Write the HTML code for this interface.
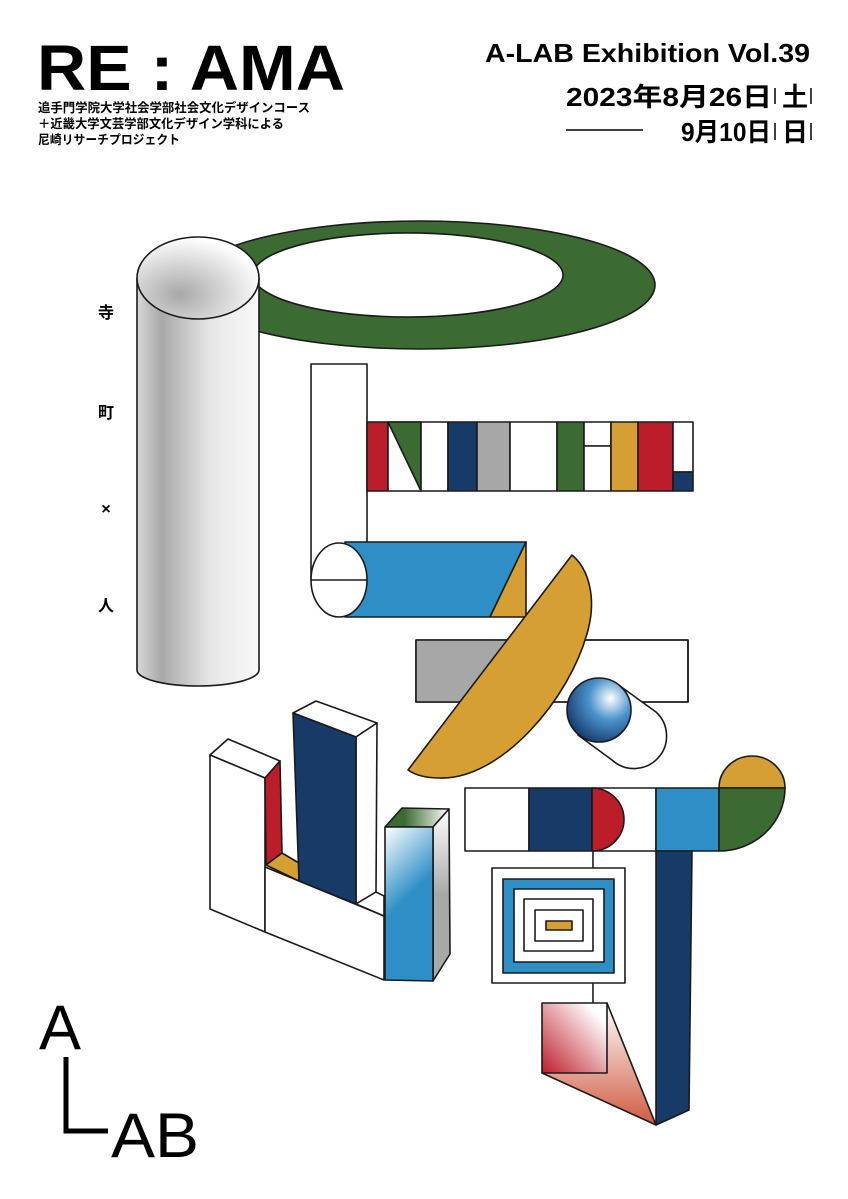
<!DOCTYPE html>
<html><head><meta charset="utf-8"><style>
html,body{margin:0;padding:0;background:#fff;width:848px;height:1199px;overflow:hidden}
svg{display:block}
</style></head><body>
<svg width="848" height="1199" viewBox="0 0 848 1199" xmlns="http://www.w3.org/2000/svg">
<defs>
<linearGradient id="cyl" x1="0" x2="1" y1="0" y2="0">
<stop offset="0" stop-color="#d8d8d8"/><stop offset="0.2" stop-color="#a8a8a8"/><stop offset="0.6" stop-color="#e6e6e6"/><stop offset="1" stop-color="#fafafa"/></linearGradient>
<radialGradient id="cyltop" cx="0.35" cy="0.7" r="0.7">
<stop offset="0" stop-color="#a8a8a8"/><stop offset="1" stop-color="#fff"/></radialGradient>
<radialGradient id="sph" cx="0.68" cy="0.32" r="0.75">
<stop offset="0" stop-color="#fff"/><stop offset="0.45" stop-color="#4a93cc"/><stop offset="1" stop-color="#173b6e"/></radialGradient>
<linearGradient id="bluegrad" x1="0" y1="0" x2="0.3" y2="1">
<stop offset="0" stop-color="#fff"/><stop offset="0.55" stop-color="#2e8fc6"/><stop offset="1" stop-color="#2e8fc6"/></linearGradient>
<linearGradient id="graygrad" x1="0" y1="0" x2="0" y2="1">
<stop offset="0" stop-color="#fff"/><stop offset="0.5" stop-color="#a8a8a8"/><stop offset="1" stop-color="#a8a8a8"/></linearGradient>
<linearGradient id="greengrad" x1="0" y1="0" x2="1" y2="0">
<stop offset="0.3" stop-color="#3b6a32"/><stop offset="1" stop-color="#fff"/></linearGradient>
<linearGradient id="redsq" x1="0" y1="1" x2="1" y2="0">
<stop offset="0" stop-color="#bb1e2a"/><stop offset="0.85" stop-color="#fff"/></linearGradient>
<linearGradient id="redtri" x1="0" y1="0" x2="0" y2="1">
<stop offset="0" stop-color="#fff"/><stop offset="1" stop-color="#cf5a40"/></linearGradient>
</defs>
<g font-family="Liberation Sans, 'Noto Sans CJK JP', sans-serif" font-weight="bold" fill="#000">
<text x="37" y="90" font-size="64" textLength="308" lengthAdjust="spacingAndGlyphs">RE : AMA</text>
<text x="38" y="112" font-size="12.5" textLength="272" lengthAdjust="spacingAndGlyphs">追手門学院大学社会学部社会文化デザインコース</text>
<text x="38" y="128" font-size="12.5" textLength="246" lengthAdjust="spacingAndGlyphs">＋近畿大学文芸学部文化デザイン学科による</text>
<text x="38" y="144" font-size="12.5" textLength="142" lengthAdjust="spacingAndGlyphs">尼崎リサーチプロジェクト</text>
<text x="810" y="62" font-size="26" text-anchor="end" textLength="325" lengthAdjust="spacingAndGlyphs">A-LAB Exhibition Vol.39</text>
<text x="566" y="106" font-size="26" textLength="206" lengthAdjust="spacingAndGlyphs">2023年8月26日</text>
<text x="782" y="106" font-size="26">土</text>
<text x="681" y="141" font-size="26" textLength="90" lengthAdjust="spacingAndGlyphs">9月10日</text>
<text x="782" y="141" font-size="26">日</text>
<g font-size="16" text-anchor="middle">
<text x="106" y="318">寺</text><text x="106" y="418">町</text><text x="106" y="514">×</text><text x="106" y="611">人</text></g>
</g>
<g stroke="#000" stroke-width="1.5">
<line x1="775" y1="88" x2="775" y2="104"/><line x1="811" y1="88" x2="811" y2="104"/>
<line x1="775" y1="123" x2="775" y2="140"/><line x1="811" y1="123" x2="811" y2="140"/>
<line x1="566" y1="130" x2="643" y2="130"/>
</g>
<g stroke="#1a1a1a" stroke-width="1.6" stroke-linejoin="round">
<!-- ring -->
<path fill-rule="evenodd" fill="#3b6a32" d="M185,285 A235,64 0 1 0 655,285 A235,64 0 1 0 185,285 Z M253,275 A155,42 0 1 0 563,275 A155,42 0 1 0 253,275 Z"/>
<!-- cylinder -->
<path fill="url(#cyl)" d="M137,278 L137,670 A61,16 0 0 0 259,670 L259,278 Z"/>
<ellipse cx="198" cy="278" rx="61" ry="41" fill="url(#cyltop)"/>
<!-- white tube -->
<rect x="311" y="364" width="56" height="216" fill="#fff"/>
<!-- color bar -->
<rect x="367" y="422" width="21" height="69" fill="#bb1e2a"/>
<rect x="388" y="422" width="33" height="69" fill="#fff"/>
<path d="M388,422 L421,422 L421,491 Z" fill="#3b6a32"/>
<rect x="421" y="422" width="27" height="69" fill="#fff"/>
<rect x="448" y="422" width="29" height="69" fill="#173a66"/>
<rect x="477" y="422" width="33" height="69" fill="#a7a7a7"/>
<rect x="510" y="422" width="47" height="69" fill="#fff"/>
<rect x="557" y="422" width="27" height="69" fill="#3b6a32"/>
<rect x="584" y="422" width="27" height="24" fill="#fff"/>
<rect x="584" y="446" width="27" height="45" fill="#fff"/>
<rect x="611" y="422" width="27" height="69" fill="#d69f33"/>
<rect x="638" y="422" width="35" height="69" fill="#bb1e2a"/>
<rect x="673" y="422" width="20" height="50" fill="#fff"/>
<rect x="673" y="472" width="20" height="19" fill="#173a66"/>
<!-- blue parallelogram -->
<path d="M345,617 L345,542 L526,542 L490,617 Z" fill="#2e8fc6"/>
<path d="M526,542 L526,617 L490,617 Z" fill="#d69f33"/>
<ellipse cx="339" cy="580" rx="28" ry="37" fill="#fff"/>
<line x1="311" y1="580" x2="367" y2="580"/>
<!-- gray/white rect -->
<rect x="416" y="640" width="272" height="62" fill="#fff"/>
<path d="M416,640 L560,640 L520,702 L416,702 Z" fill="#a7a7a7" stroke="none"/>
<rect x="416" y="640" width="272" height="62" fill="none"/>
<!-- orange half disc -->
<path d="M572,555 C590,570 596,600 588,630 C570,700 500,780 440,778 C425,778 415,775 408,770 Z" fill="#d69f33"/>
<!-- capsule -->
<path d="M578,735 L612,760 A32,32 0 0 0 656,712 L620,686 Z" fill="#fff"/>
<circle cx="599" cy="710" r="32" fill="url(#sph)"/>
<!-- U shape -->
<path d="M210,755 L228,739 L280,761 L265,778 Z" fill="#fff"/>
<path d="M210,755 L265,778 L265,932 L210,909 Z" fill="#fff"/>
<path d="M265,778 L280,761 L282,853 L266,865 Z" fill="#bb1e2a"/>
<path d="M265,867 L384,916 L384,980 L265,932 Z" fill="#fff"/>
<path d="M266,865 L282,853 L299,863 L299,881 Z" fill="#d69f33"/>
<path d="M293,713 L316,701 L377,723 L356,737 Z" fill="#fff"/>
<path d="M356,737 L377,723 L376,892 L356,904 Z" fill="#fff"/>
<path d="M356,904 L376,892 L384,896 L384,916 Z" fill="#fff"/>
<path d="M293,713 L356,737 L356,904 L299,881 Z" fill="#173a66"/>
<path d="M385,827 L402,808 L449,809 L433,827 Z" fill="url(#greengrad)"/>
<path d="M433,827 L449,809 L450,954 L433,981 Z" fill="url(#graygrad)"/>
<path d="M385,827 L433,827 L433,981 L385,980 Z" fill="url(#bluegrad)"/>
<!-- right structure -->
<path d="M719,788 A33,32 0 0 1 785,788 Z" fill="#d69f33"/>
<rect x="465" y="788" width="64" height="63" fill="#fff"/>
<rect x="529" y="788" width="63" height="63" fill="#173a66"/>
<rect x="592" y="788" width="64" height="63" fill="#fff"/>
<path d="M592,788 A32,31.5 0 0 1 592,851 Z" fill="#bb1e2a"/>
<rect x="656" y="788" width="63" height="63" fill="#2e8fc6"/>
<path d="M719,788 L785,788 A66,63 0 0 1 719,851 Z" fill="#3b6a32"/>
<path d="M656,851 L692,851 L689,1110 L656,1125 Z" fill="#173a66"/>
<line x1="593" y1="851" x2="593" y2="868"/>
<line x1="593" y1="983" x2="593" y2="1003"/>
<rect x="492" y="868" width="133" height="115" fill="#fff"/>
<rect x="503" y="879" width="111" height="94" fill="#2e8fc6"/>
<rect x="514" y="889" width="90" height="73" fill="#fff"/>
<rect x="524" y="899" width="69" height="52" fill="#fff"/>
<rect x="535" y="910" width="48" height="31" fill="#fff"/>
<rect x="546" y="921" width="26" height="9" fill="#d69f33"/>
<path d="M607,1003 L656,1125 L542,1073 Z" fill="url(#redtri)"/>
<rect x="542" y="1003" width="65" height="70" fill="url(#redsq)"/>
</g>
<!-- logo -->
<g font-family="Liberation Sans, sans-serif" fill="#000">
<text x="39" y="1049" font-size="63">A</text>
<text x="111" y="1157" font-size="63" textLength="88" lengthAdjust="spacingAndGlyphs">AB</text>
</g>
<path d="M66,1057 L66,1131 L108,1131" fill="none" stroke="#000" stroke-width="5"/>
</svg>
</body></html>
